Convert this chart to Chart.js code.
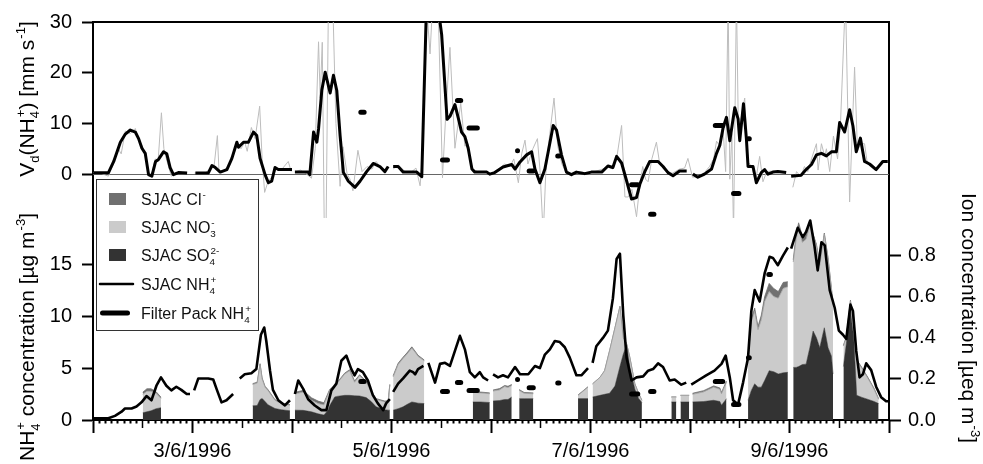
<!DOCTYPE html>
<html>
<head>
<meta charset="utf-8">
<script src="https://cdn.jsdelivr.net/npm/chart.js@4.4.0/dist/chart.umd.min.js"></script>
<style>
  html, body { margin: 0; padding: 0; background: #fff; }
  #wrap { position: relative; width: 983px; height: 464px; }
  #wrap canvas { position: absolute; left: 0; top: 0; }
</style>
</head>
<body>
<div id="wrap">
  <canvas id="concChart" width="983" height="464"></canvas>
  <canvas id="vdChart" width="983" height="464"></canvas>
</div>
<script>
// --- Daten (Stunden ab 2/6/1996 00:00) ---

// Vd(NH4+) geglaettet, schwarze Linie [mm s-1]
const vdHours = [0.1, 3.7, 5.0, 6.6, 7.8, 9.0, 10.2, 11.0, 11.8, 12.6, 13.4, 14.2, 15.1, 15.8, 17.0, 17.8, 18.6, 19.4, 20.6, 22.7, 23.7,
  24.7, 27.8, 28.7, 29.5, 30.7, 32.3, 33.5, 34.7, 35.1, 36.3, 37.5, 38.7, 39.5, 40.3, 41.5, 42.3, 43.1, 43.9, 44.7, 45.5, 48.0, 48.35,
  48.7, 51.9, 52.3, 53.2, 54.0, 54.4, 55.2, 56.0, 57.2, 58.0, 58.8, 59.6, 60.4, 61.6, 63.2, 64.4, 66.0, 67.6, 69.2, 70.4, 71.2, 71.8,
  72.4, 73.6, 74.8, 78.1, 79.3, 80.5, 82.9, 84.1, 85.4, 86.1, 87.3, 88.1, 88.9, 89.7, 90.5, 91.4, 92.1, 95.0, 95.7, 96.9, 98.9, 101.0,
  101.8, 103.0, 104.6, 105.8, 106.6, 107.8, 109.0, 109.8, 111.0, 111.8, 113.0, 114.2, 115.4, 116.6, 118.6, 120.2, 122.7, 124.2, 125.4,
  126.3, 127.5, 128.7, 129.9, 131.1, 131.9, 133.1, 134.3, 136.3, 137.5, 138.7, 139.9, 141.5, 143.2, 143.9,
  144.7, 145.9, 147.5, 149.2, 150.4, 151.2, 152.0, 152.8, 153.6, 154.8, 155.6, 156.0, 156.9, 157.6, 158.0, 159.2, 160.0, 161.2, 162.0,
  162.8, 164.0, 165.2, 167.2, 167.8,
  168.4, 170.8, 172.0, 173.3, 174.5, 175.7, 176.9, 178.1, 179.3, 180.1, 181.3, 182.5, 183.3, 184.1, 185.1, 186.1, 187.3, 188.9, 190.5, 191.7];
const vdSmooth = [0.25, 0.25, 2.5, 6.3, 7.9, 8.7, 8.3, 7.0, 5.1, 4.1, -0.1, -0.4, 2.5, 2.9, 4.4, 4.0, 1.3, -0.1, 0.3, 0.2, null,
  0.2, 0.2, 1.7, 1.3, 0.4, 0.9, 3.1, 6.3, 5.3, 6.3, 6.3, 8.3, 7.6, 3.1, -0.1, -1.7, -1.4, 1.3, 0.9, 0.9, 0.9, null,
  0.4, 0.4, -0.1, 8.3, 6.3, 8.9, 16.6, 20.1, 16.0, 19.5, 16.5, 7.6, 0.3, -1.4, -2.6, -1.4, 0.5, 2.1, 1.5, 0.5, 1.5, null,
  1.5, 1.5, 0.4, 0.4, -0.5, 35, 35, 27.5, 10.8, 11.4, 13.7, 11.1, 8.3, 7.4, 5.1, 1.0, 0.4, 0.4, 0, 0.3, 1.4, 1.9,
  1.0, 2.4, 3.8, 4.4, 1.0, -1.7, 1.0, 4.4, 9.6, 8.7, 3.8, 0.4, -0.1, 0.4, 0.1, 0.4, 0.4, 1.6, 1.3,
  3.5, 2.2, -1.3, -4.9, -4.6, -2.0, 0.5, 2.5, 2.5, 1.5, 0.3, -0.3, 0.6, 0.6, null,
  0, -0.6, 0, 1.0, 4.1, 5.7, 9.2, 11.2, 6.6, 13.1, 10.9, 6.6, 13.9, 7.0, 1.5, 1.5, -1.7, 0.3, 0.9,
  0, 0.4, 0.5, 0.3, null,
  -0.4, -0.2, 0.9, 1.9, 3.8, 4.1, 3.6, 4.4, 4.4, 10.2, 8.3, 12.7, 9.5, 4.4, 7.1, 2.5, 2.0, 0.9, 2.5, 2.5];

// Vd(NH4+) Rohwerte, graue Linie
const rawHours = [0.1, 1.8, 3.7, 4.9, 6.1, 6.8, 7.8, 9.0, 10.2, 11.2, 11.9, 12.9, 13.6, 14.3, 15.0, 15.7, 16.5, 17.1, 17.7, 18.4, 18.9,
  19.8, 21.0, 22.5, 23.5, 24.5, 27.1, 28.3, 29.2, 30.0, 30.4, 31.6, 32.8, 33.8, 34.8, 35.7, 36.6, 37.2, 38.2, 39.1, 40.2, 40.8, 41.4,
  42.2, 43.2, 44.2, 45.4, 47.1, 47.8, 48.3, 48.7, 50.0, 51.2, 52.7, 53.6, 54.4, 54.8, 55.3, 55.8, 56.2, 56.8, 57.8, 58.6, 59.6, 60.3,
  61.3, 62.0, 62.7, 63.9, 64.9, 66.1, 67.3, 68.3, 69.2, 70.4, 71.2, 71.8, 72.4, 73.6, 75.3, 76.9, 77.9, 78.9, 79.6, 80.3, 81.3, 82.0,
  83.2, 84.3, 85.1, 86.1, 87.3, 88.7, 89.7, 90.4, 91.4, 92.8, 94.5, 95.7, 96.9, 98.1, 99.3, 100.6, 101.5, 102.6, 103.4, 104.2, 104.9,
  106.1, 107.2, 107.8, 108.6, 109.2, 109.9, 111.2, 112.1, 113.1, 114.0, 115.5, 117.4, 119.3, 121.0, 122.9, 124.2, 125.4, 126.3, 127.5,
  128.3, 129.1, 130.0, 131.1, 131.9, 132.6, 133.3, 133.9, 134.8, 135.9, 136.7, 137.4, 138.6, 139.8, 141.5, 142.7, 143.5, 144.6, 145.9,
  147.5, 148.7, 149.7, 150.4, 151.2, 151.9, 152.6, 153.2, 153.6, 154.1, 154.5, 155.2, 155.7, 156.5, 157.2, 157.9, 158.9, 159.8, 160.8,
  161.6, 162.5, 163.7, 165.1, 166.8, 167.5, 168.8, 169.7, 170.7, 171.6, 172.4, 173.3, 174.5, 174.9, 175.7, 176.5, 176.9, 177.7, 178.6,
  179.6, 180.3, 181.5, 182.5, 183.7, 184.4, 185.1, 186.1, 186.8, 187.8, 189.0, 190.4, 191.6];
const vdRaw = [0.3, 0.2, -0.4, 2.0, 5.0, 4.0, 8.5, 8.0, 9.0, 6.5, 5.5, 3.0, -0.5, 0.5, 3.0, 2.5, 12.1, 5.0, 3.0, 1.0, -0.4,
  0.2, 0.3, 0.2, null, 0.2, 0.3, 1.0, 1.5, 7.6, 0.5, 0.8, 1.5, 3.5, 6.0, 5.0, 6.3, 4.5, 9.2, 7.0, 13.4, 3.0, -3.6,
  -1.5, -0.5, 1.0, 0.8, 2.5, 0.5, null, 0.4, 0.8, 0.2, -0.8, 5.0, 26.1, 15, 26, -12, -12, 35, 35, 10, -2.4, 5.4,
  0, -1, -3.3, 4.7, 0.5, 1.5, 1.0, 2.5, 1.5, 0.8, 1.5, null, 1.0, 1.8, 0.5, 0.5, 1.2, -2.3, 5, 35, 23.7, 35,
  35, -0.7, 12, 25, 5.1, 14.0, 5.5, 6.0, 1.0, 0.5, 0.5, 0, 0.5, 1.2, 2.0, 1.5, 3.0, -1.7, 4.0, 6.7, 2.0,
  5.0, 7.0, 1.0, -12, 0, 6, 15.0, 5.5, 2.0, 0.5, 0, 0.5, 0.2, 0.5, 1.0, 1.5, 1.0, 3.0, 9.6,
  -4.5, -4.5, -3, -8.4, -2, 1.5, -1.0, -1.5, 3.0, 6.3, 2.0, 1.5, 0.2, 0.2, 1.0, 1.2, 3.1, -0.6, -0.5,
  0.3, 1.5, 3.0, 6.5, 5.5, 10.0, 0.5, 35, -1, 8, -12, 35, 7, 12, 15, 2.5, 1.5, -1.5, 3.5,
  -1.5, 0.5, 0.6, 0.4, 0.3, null, -2.6, 0.5, -0.5, 1.5, 0.5, 3.0, 6.0, 0.8, 6.0, 3.5, 5.0, 0.5, 7.5,
  3.0, 10, 35, -5.5, 21.1, 4.5, 6, 6.0, 2.0, 2.0, 1.0, 2.5, 2.3];

// Filter Pack: Sammelperioden, Vd und NH4+
const fpStart = [64.6, 84.3, 87.9, 90.7, 102.4, 105.2, 112.1, 129.9, 134.5, 150.1, 154.5, 158.1, 163.0];
const fpEnd   = [65.4, 85.5, 88.7, 92.7, 102.5, 106.2, 112.4, 131.4, 135.3, 151.9, 155.8, 158.3, 163.4];
const fpVd    = [12.2, 2.8, 14.5, 9.1, 4.6, 0.6, 3.6, -2.1, -7.9, 9.6, -3.8, 7.0, null];
const fpNH4   = [3.7, 2.75, 3.6, 2.85, 3.9, 3.1, 3.55, 2.5, 2.75, 3.7, 1.5, 6.0, 14.0];

// SJAC NH4+ [ug m-3]
const nh4Hours = [0.1, 3.7, 5.3, 6.9, 7.7, 9.3, 10.5, 11.7, 12.9, 14.1, 15.3, 16.4, 17.7, 18.9, 20.1, 21.3, 22.6, 23.4, 23.9,
  24.4, 25.4, 26.6, 27.8, 29.0, 29.8, 31.0, 32.2, 33.8, 34.6,
  35.4, 36.6, 38.2, 39.4, 40.5, 41.3, 41.8, 42.7, 43.4, 44.7, 46.3, 47.5, 48.1,
  48.7, 49.5, 50.7, 51.9, 53.5, 55.1, 56.3, 57.5, 58.7, 59.9, 61.1, 62.3, 63.1, 63.9, 65.1, 66.3, 67.5, 68.7, 70.0, 70.7, 71.6, 72.0,
  72.4, 73.6, 74.8, 76.4, 77.2, 77.7, 78.4, 79.7, 80.3,
  80.9, 82.5, 83.7, 84.9, 86.1, 87.3, 88.5, 89.7, 90.9, 92.1, 93.3, 94.1, 95.3, 95.9,
  96.5, 97.7, 98.9, 100.1, 101.8, 103.0, 105.0, 106.6, 107.8, 109.0, 110.2, 111.4, 112.6, 113.8, 115.0, 116.6, 117.8, 119.4, 120.0,
  120.5, 121.4, 123.0, 124.2, 125.4, 126.3, 127.1, 127.9, 128.7, 129.9, 131.1, 132.7, 133.9, 135.1, 136.3, 137.5, 139.1, 140.3, 141.9, 143.1, 143.7,
  144.3, 145.9, 147.9, 149.9, 151.6, 152.6, 153.6, 154.4, 155.6, 156.8, 158.0, 158.8, 159.6, 160.8, 162.0, 163.2, 164.0, 165.2, 166.4, 167.6, 168.0,
  168.4, 170.0, 171.2, 172.0, 173.0, 174.0, 174.8, 175.7, 176.5, 177.7, 178.9, 179.9, 180.9, 181.7, 182.7, 183.3, 184.1, 184.9, 185.7,
  186.5, 187.7, 188.9, 190.1, 191.3, 192.0];
const nh4Conc = [0.16, 0.16, 0.4, 0.8, 1.1, 1.1, 1.3, 1.7, 2.3, 1.9, 3.3, 4.1, 3.3, 2.85, 3.2, 2.9, 2.5, 2.5, null,
  2.85, 4.0, 4.0, 4.0, 3.9, 3.0, 1.7, 1.9, 2.5, null,
  4.0, 4.4, 4.5, 4.9, 8.2, 8.9, 7.6, 4.75, 2.9, 1.9, 1.4, 1.9, null,
  2.5, 3.8, 3.0, 2.0, 1.4, 0.95, 0.95, 2.85, 3.5, 5.7, 6.2, 4.9, 4.3, 4.9, 4.6, 3.8, 2.4, 1.6, 0.95, 1.6, 2.0, null,
  2.7, 3.5, 4.0, 4.75, 4.6, 4.4, 4.9, 5.2, null,
  5.5, 3.6, 5.4, 5.5, 5.2, 6.65, 8.1, 6.8, 4.6, 4.1, 4.6, 4.1, 3.8, null,
  4.4, 4.1, 4.3, 4.1, 5.1, 4.4, 4.4, 5.2, 5.0, 6.3, 6.8, 7.6, 7.5, 7.0, 6.0, 4.3, 4.3, 5.0, null,
  5.5, 7.1, 7.9, 8.6, 11.7, 15.5, 16.0, 10.1, 6.0, 3.8, 4.1, 4.2, 4.75, 4.9, 5.45, 5.1, 3.8, 3.9, 3.4, 3.6, null,
  3.4, 3.8, 4.3, 4.75, 5.4, 6.2, 4.1, 1.9, 1.5, 3.6, 6.0, 10.5, 12.5, 11.4, 14.1, 15.7, 15.6, 14.9, 15.8, 16.6, null,
  16.5, 18.5, 17.6, 18.1, 19.2, 16.8, 14.4, 17.1, 16.8, 12.5, 10.8, 8.6, 8.2, 7.8, 11.1, 10.5, 6.65, 4.1, 4.4,
  5.45, 4.8, 3.2, 2.2, 1.8, 1.8];

// SJAC Ionen [ueq m-3], gestapelt: SO4 2-, NO3 -, Cl -
const ionHours = [12.0, 13.0, 14.0, 15.2, 16.4, 27.0,
  38.5, 39.6, 40.3, 40.8, 41.5, 42.2, 43.9, 45.4, 47.5, 48.1,
  48.7, 50.7, 52.7, 54.3, 55.7, 56.7, 57.1, 58.3, 58.8, 60.7, 61.9, 63.1, 64.3, 65.9, 67.1, 68.3, 70.4, 71.2, 71.6, 72.0,
  72.4, 73.6, 74.8, 75.7, 76.9, 77.7, 78.4, 79.9, 86.0,
  91.6, 93.5, 95.7, 96.1,
  96.5, 98.1, 99.3, 100.1, 101.0, 101.9,
  102.8, 104.0, 106.2, 111.0,
  117.0, 119.4, 120.0,
  120.5, 122.3, 123.4, 124.6, 125.9, 127.1, 127.9, 128.7, 129.5, 130.7, 131.6, 132.4, 136.0,
  139.5, 140.7, 141.2,
  141.7, 143.8, 144.2,
  144.6, 147.3, 149.7, 151.2, 151.6, 152.8, 155.0,
  158.0, 158.8, 159.6, 160.4, 161.2, 162.0, 163.1, 164.2, 165.3, 166.5, 167.6, 168.2,
  168.9, 169.6, 170.2, 171.1, 172.0, 172.9, 173.7, 174.5, 175.3, 176.4, 177.3, 178.1, 178.5, 179.7,
  181.0, 181.7, 182.7, 183.5, 184.2, 185.5, 187.0, 188.4, 189.5];
const so4 = [0.035, 0.040, 0.045, 0.055, 0.060, null,
  0.069, 0.070, 0.100, 0.105, 0.090, 0.074, 0.056, 0.050, 0.045, null,
  0.048, 0.047, 0.040, 0.030, 0.024, 0.048, 0.070, 0.112, 0.115, 0.120, 0.120, 0.118, 0.117, 0.109, 0.090, 0.064, 0.050, 0.048, 0.048, null,
  0.048, 0.055, 0.064, 0.075, 0.088, 0.085, 0.082, 0.080, null,
  0.088, 0.088, 0.085, null,
  0.093, 0.095, 0.100, 0.100, 0.112, null,
  0.104, 0.104, 0.104, null,
  0.104, 0.104, null,
  0.112, 0.120, 0.125, 0.130, 0.165, 0.260, 0.320, 0.365, 0.256, 0.150, 0.105, 0.085, null,
  0.088, 0.088, null,
  0.088, 0.088, null,
  0.088, 0.090, 0.096, 0.090, 0.072, 0.104, null,
  0.096, 0.144, 0.176, 0.160, 0.160, 0.192, 0.240, 0.235, 0.224, 0.230, 0.232, null,
  0.256, 0.256, 0.260, 0.270, 0.272, 0.352, 0.433, 0.400, 0.352, 0.449, 0.352, 0.312, 0.224, null,
  0.260, 0.370, 0.530, 0.400, 0.120, 0.110, 0.100, 0.090, 0.080];
const no3 = [0.090, 0.100, 0.095, 0.075, 0.045, null,
  0.104, 0.110, 0.170, 0.095, 0.070, 0.070, 0.040, 0.030, 0.027, null,
  0.080, 0.089, 0.056, 0.050, 0.050, 0.077, 0.074, 0.053, 0.061, 0.104, 0.120, 0.066, 0.099, 0.075, 0.046, 0.036, 0.038, 0.042, 0.122, null,
  0.162, 0.215, 0.236, 0.245, 0.262, 0.245, 0.228, 0.208, null,
  0.047, 0.044, 0.043, null,
  0.048, 0.052, 0.063, 0.058, 0.056, null,
  0.040, 0.026, 0.024, null,
  0.016, 0.056, null,
  0.064, 0.088, 0.115, 0.207, 0.284, 0.293, 0.080, 0.007, 0.048, 0.026, 0.025, 0.011, null,
  0.024, 0.024, null,
  0.032, 0.032, null,
  0.037, 0.047, 0.064, 0.060, 0.056, 0.080, null,
  0.208, 0.336, 0.353, 0.280, 0.329, 0.385, 0.385, 0.366, 0.369, 0.411, 0.417, null,
  0.513, 0.624, 0.678, 0.595, 0.608, 0.594, 0.467, 0.450, 0.401, 0.456, 0.433, 0.329, 0.337, null,
  0.100, 0.030, 0.050, 0.050, 0.170, 0.140, 0.100, 0.060, 0.020];
const cl = [0.010, 0.012, 0.012, 0.008, 0.006, null,
  0.004, 0.004, 0.004, 0.004, 0.004, 0.004, 0.003, 0.003, 0.003, null,
  0.007, 0.008, 0.012, 0.012, 0.010, 0.006, 0.005, 0.004, 0.004, 0.004, 0.005, 0.006, 0.004, 0.005, 0.004, 0.004, 0.004, 0.004, 0.004, null,
  0.006, 0.006, 0.006, 0.006, 0.006, 0.005, 0.005, 0.004, null,
  0.004, 0.004, 0.004, null,
  0.005, 0.006, 0.005, 0.006, 0.005, null,
  0.004, 0.004, 0.004, null,
  0.002, 0.002, null,
  0, 0, 0, 0, 0, 0, 0, 0, 0, 0, 0, 0, null,
  0, 0, null,
  0, 0, null,
  0.005, 0.006, 0.006, 0.006, 0.006, 0.006, null,
  0.006, 0.010, 0.016, 0.015, 0.021, 0.023, 0.040, 0.039, 0.032, 0.029, 0.024, null,
  0.011, 0.020, 0.022, 0.030, 0.025, 0.009, 0.005, 0.005, 0.005, 0.005, 0.005, 0.004, 0.004, null,
  0.004, 0.004, 0.004, 0.004, 0.004, 0.004, 0.004, 0.004, 0.004];

// Achsen
const vdTicks = [0, 10, 20, 30];
const concTicks = [0, 5, 10, 15];
const ionTicks = [0, 0.2, 0.4, 0.6, 0.8];
const dayTicks = [0, 24, 48, 72, 96, 120, 144, 168, 192];

const FONT = "'Liberation Sans', Arial, Helvetica, sans-serif";
Chart.defaults.font.family = FONT;
Chart.defaults.color = '#000';

const halfDayTicks = dayTicks.slice(0, -1).map(d => d + 12);
const minorTicks = [];
for (let h = 0; h <= 192; h += 1.5) if (h % 12 !== 0) minorTicks.push(h);

function pairs(xs, ys) { return xs.map((x, i) => ({ x: x, y: ys[i] })); }
function dashes(starts, ends, vals) {
  const pts = [];
  starts.forEach((s, i) => {
    if (vals[i] === null) return;
    pts.push({ x: s, y: vals[i] }, { x: ends[i], y: vals[i] }, { x: ends[i] + 0.05, y: null });
  });
  return pts;
}
const setTicks = vals => s => { s.ticks = vals.map(v => ({ value: v })); };
const fixWidth = w => s => { s.width = w; };
const fixHeight = h => s => { s.height = h; };

// Text mit Hoch-/Tiefstellung
function richRun(ctx, parts, x, y, size, draw) {
  let cx = x;
  for (const p of parts) {
    if (p.t !== undefined) {
      ctx.font = size + 'px ' + FONT;
      if (draw) ctx.fillText(p.t, cx, y);
      cx += ctx.measureText(p.t).width;
    } else {
      const s = size * 0.62;
      ctx.font = s + 'px ' + FONT;
      let w = 0;
      if (p.sub) { if (draw) ctx.fillText(p.sub, cx, y + size * 0.28); w = Math.max(w, ctx.measureText(p.sub).width); }
      if (p.sup) { if (draw) ctx.fillText(p.sup, cx + 1, y - size * 0.42); w = Math.max(w, ctx.measureText(p.sup).width + 1); }
      cx += w;
    }
  }
  return cx - x;
}
function richRotated(ctx, parts, bx, cy, size, angle) {
  ctx.save();
  ctx.translate(bx, cy);
  ctx.rotate(angle);
  const w = richRun(ctx, parts, 0, 0, size, false);
  ctx.textBaseline = 'alphabetic';
  ctx.textAlign = 'left';
  richRun(ctx, parts, -w / 2, 0, size, true);
  ctx.restore();
}

// Achsentitel und Legende
const decorPlugin = {
  id: 'decor',
  afterDraw(chart) {
    const ctx = chart.ctx;
    ctx.save();
    ctx.fillStyle = '#000';
    richRotated(ctx, [{ t: 'V' }, { sub: 'd' }, { t: '(NH' }, { sub: '4', sup: '+' }, { t: ') [mm s' }, { sup: '-1' }, { t: ']' }],
      33.5, 99, 21, -Math.PI / 2);
    richRotated(ctx, [{ t: 'NH' }, { sub: '4', sup: '+' }, { t: ' concentration [µg m' }, { sup: '-3' }, { t: ']' }],
      34, 337, 21, -Math.PI / 2);
    richRotated(ctx, [{ t: 'Ion concentration [µeq m' }, { sup: '-3' }, { t: ']' }],
      962, 318, 21, Math.PI / 2);

    ctx.fillStyle = '#fff';
    ctx.fillRect(96, 179, 162, 151);
    ctx.strokeStyle = '#333';
    ctx.lineWidth = 1;
    ctx.strokeRect(96.5, 179.5, 162, 151);
    const rows = [
      { kind: 'box', color: '#707070', y: 205, parts: [{ t: 'SJAC Cl' }, { sup: '-' }] },
      { kind: 'box', color: '#cbcbcb', y: 233, parts: [{ t: 'SJAC NO' }, { sub: '3', sup: '-' }] },
      { kind: 'box', color: '#333333', y: 261, parts: [{ t: 'SJAC SO' }, { sub: '4', sup: '2-' }] },
      { kind: 'line', width: 2.5, y: 290, parts: [{ t: 'SJAC NH' }, { sub: '4', sup: '+' }] },
      { kind: 'line', width: 5, y: 319, parts: [{ t: 'Filter Pack NH' }, { sub: '4', sup: '+' }] }
    ];
    rows.forEach(r => {
      if (r.kind === 'box') {
        ctx.fillStyle = r.color;
        ctx.fillRect(109, r.y - 12, 17, 12);
      } else {
        ctx.strokeStyle = '#000';
        ctx.lineWidth = r.width;
        ctx.lineCap = 'round';
        ctx.beginPath();
        ctx.moveTo(r.width > 3 ? 102.5 : 100, r.y - 6);
        ctx.lineTo(r.width > 3 ? 127.5 : 133, r.y - 6);
        ctx.stroke();
      }
      ctx.fillStyle = '#111';
      ctx.textBaseline = 'alphabetic';
      ctx.textAlign = 'left';
      richRun(ctx, r.parts, 141, r.y, 16, true);
    });
    ctx.restore();
  }
};

const hourAxis = { type: 'linear', min: 0, max: 192 };

// --- Unteres Panel: Konzentrationen ---
new Chart(document.getElementById('concChart'), {
  type: 'line',
  data: {
    datasets: [
      { label: 'SJAC SO4', data: pairs(ionHours, so4), yAxisID: 'yIon', order: 4, fill: 'origin',
        backgroundColor: '#333333', borderColor: '#333333', borderWidth: 0.5, pointRadius: 0, spanGaps: false },
      { label: 'SJAC NO3', data: pairs(ionHours, no3), yAxisID: 'yIon', order: 5, fill: '-1',
        backgroundColor: '#cbcbcb', borderColor: '#9a9a9a', borderWidth: 0.8, pointRadius: 0, spanGaps: false },
      { label: 'SJAC Cl', data: pairs(ionHours, cl), yAxisID: 'yIon', order: 6, fill: '-1',
        backgroundColor: '#707070', borderColor: '#707070', borderWidth: 0.8, pointRadius: 0, spanGaps: false },
      { label: 'SJAC NH4', data: pairs(nh4Hours, nh4Conc), yAxisID: 'yConc', order: 1,
        borderColor: '#000', borderWidth: 2.6, pointRadius: 0, spanGaps: false, fill: false, borderJoinStyle: 'round' },
      { label: 'Filter Pack NH4', data: dashes(fpStart, fpEnd, fpNH4), yAxisID: 'yConc', order: 0,
        borderColor: '#000', borderWidth: 5, borderCapStyle: 'round', pointRadius: 0, spanGaps: false, fill: false }
    ]
  },
  options: {
    responsive: false,
    animation: false,
    events: [],
    layout: { padding: 0 },
    elements: { line: { tension: 0 } },
    plugins: { legend: { display: false }, tooltip: { enabled: false }, title: { display: false } },
    scales: {
      x: Object.assign({}, hourAxis, {
        position: 'bottom', weight: 2,
        afterBuildTicks: setTicks(dayTicks), afterFit: fixHeight(44),
        ticks: { autoSkip: false, maxRotation: 0, padding: 6, font: { size: 20 },
          callback: v => (v % 48 === 24) ? (2 + v / 24) + '/6/1996' : '' },
        grid: { drawOnChartArea: false, tickLength: 13, tickWidth: 2, tickColor: '#000' },
        border: { display: true, color: '#000', width: 2 }
      }),
      xMid: Object.assign({}, hourAxis, {
        position: 'bottom', weight: 0,
        afterBuildTicks: setTicks(halfDayTicks), afterFit: fixHeight(0),
        ticks: { autoSkip: false, maxRotation: 0, callback: () => '' },
        grid: { drawOnChartArea: false, tickLength: 8, tickWidth: 1.5, tickColor: '#000' },
        border: { display: false }
      }),
      xMinor: Object.assign({}, hourAxis, {
        position: 'bottom', weight: 0,
        afterBuildTicks: setTicks(minorTicks), afterFit: fixHeight(0),
        ticks: { autoSkip: false, maxRotation: 0, callback: () => '' },
        grid: { drawOnChartArea: false, tickLength: 3.5, tickWidth: 2, tickColor: '#000' },
        border: { display: false }
      }),
      xTop: Object.assign({}, hourAxis, {
        position: 'top', afterFit: fixHeight(17),
        ticks: { display: false }, grid: { display: false },
        border: { display: true, color: '#000', width: 2 }
      }),
      yConc: {
        type: 'linear', position: 'left', min: 0, max: 38.3,
        afterBuildTicks: setTicks(concTicks), afterFit: fixWidth(93),
        ticks: { autoSkip: false, padding: 10, font: { size: 20 }, callback: v => String(v) },
        grid: { drawOnChartArea: false, tickLength: 11, tickWidth: 2, tickColor: '#000' },
        border: { display: true, color: '#000', width: 2 }
      },
      yIon: {
        type: 'linear', position: 'right', min: 0, max: 1.9375, stacked: true,
        afterBuildTicks: setTicks(ionTicks), afterFit: fixWidth(94),
        ticks: { autoSkip: false, padding: 7, font: { size: 20 }, callback: v => v.toFixed(1) },
        grid: { drawOnChartArea: false, tickLength: 12, tickWidth: 2, tickColor: '#000' },
        border: { display: true, color: '#000', width: 2 }
      }
    }
  }
});

// --- Oberes Panel: Depositionsgeschwindigkeit ---
new Chart(document.getElementById('vdChart'), {
  type: 'line',
  data: {
    datasets: [
      { label: 'Vd roh', data: pairs(rawHours, vdRaw), order: 3,
        borderColor: '#bdbdbd', borderWidth: 1, pointRadius: 0, spanGaps: false, fill: false },
      { label: 'Vd', data: pairs(vdHours, vdSmooth), order: 2,
        borderColor: '#000', borderWidth: 3, pointRadius: 0, spanGaps: false, fill: false, borderJoinStyle: 'round' },
      { label: 'Vd Filter Pack', data: dashes(fpStart, fpEnd, fpVd), order: 0,
        borderColor: '#000', borderWidth: 5, borderCapStyle: 'round', pointRadius: 0, spanGaps: false, fill: false }
    ]
  },
  options: {
    responsive: false,
    animation: false,
    events: [],
    layout: { padding: { left: 0, right: 94, top: 17, bottom: 246 } },
    elements: { line: { tension: 0 } },
    plugins: { legend: { display: false }, tooltip: { enabled: false }, title: { display: false } },
    scales: {
      x: Object.assign({}, hourAxis, { display: false }),
      y: {
        type: 'linear', position: 'left', min: -8.65, max: 30,
        afterBuildTicks: setTicks(vdTicks), afterFit: fixWidth(93),
        ticks: { autoSkip: false, padding: 10, font: { size: 20 }, callback: v => String(v) },
        grid: { color: c => (c.tick && c.tick.value === 0) ? '#666' : 'rgba(0,0,0,0)', lineWidth: 1,
          tickLength: 11, tickWidth: 2, tickColor: '#000' },
        border: { display: false }
      }
    }
  },
  plugins: [decorPlugin]
});
</script>
</body>
</html>
